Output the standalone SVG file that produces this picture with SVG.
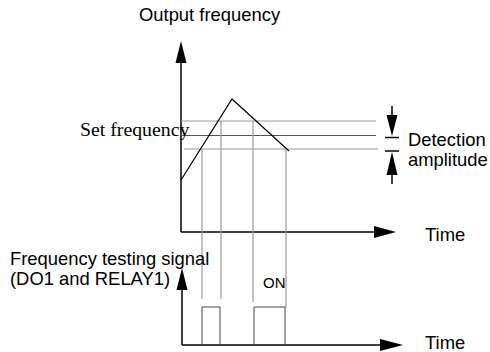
<svg xmlns="http://www.w3.org/2000/svg" width="490" height="352" viewBox="0 0 490 352">
<style>
.ax{stroke:#000;stroke-width:1.5;fill:none}
.ah{fill:#000;stroke:none}
.g{stroke:#9a9a9a;stroke-width:1.2;fill:none}
.m{stroke:#555;stroke-width:1;fill:none}
.p{stroke:#444;stroke-width:1;fill:none}
.t{font-family:"Liberation Sans",Arial,sans-serif;font-size:18.4px;fill:#000}
.s{font-family:"Liberation Serif","Times New Roman",serif;font-size:19.8px;fill:#000}
</style>
<rect width="490" height="352" fill="#fff"/>
<g id="connectors">
<line class="ax" x1="181" y1="232" x2="181" y2="60"/>
<polygon class="ah" points="181,41 175.5,63 186.5,63"/>
<line class="ax" x1="181" y1="232" x2="378" y2="232"/>
<polygon class="ah" points="396,232 374,226 374,238"/>
<line class="g" x1="181" y1="121" x2="376" y2="121"/>
<line class="m" x1="181" y1="135.5" x2="376" y2="135.5"/>
<line class="g" x1="184" y1="149" x2="378" y2="149"/>
<polyline fill="none" stroke="#000" stroke-width="1.2" points="181,180 232,99 289,151"/>
<line class="g" x1="202" y1="149" x2="202" y2="299"/>
<line class="g" x1="221" y1="121" x2="221" y2="299"/>
<line class="g" x1="253" y1="121" x2="253" y2="302"/>
<line class="g" x1="286" y1="149" x2="286" y2="308"/>
<line class="ax" x1="392" y1="106" x2="392" y2="120"/>
<polygon class="ah" points="392,136 386.5,115 397.5,115"/>
<line x1="385" y1="137.5" x2="399" y2="137.5" stroke="#000" stroke-width="1.5"/>
<line x1="385" y1="151" x2="399" y2="151" stroke="#000" stroke-width="1.5"/>
<polygon class="ah" points="392,152 386.5,175 397.5,175"/>
<line class="ax" x1="392" y1="170" x2="392" y2="184"/>
<line class="ax" x1="182" y1="345" x2="182" y2="285"/>
<polygon class="ah" points="182,268 176.5,290 187.5,290"/>
<line class="ax" x1="182" y1="345" x2="385" y2="345"/>
<polygon class="ah" points="403,345 380,339 380,351"/>
</g>
<g id="pulse1"><polyline class="p" points="202,345 202,307 220,307 220,345"/></g>
<g id="pulse2"><polyline class="p" points="254,345 254,307 285,307 285,345"/></g>
<g id="labels">
<text class="t" x="139" y="21">Output frequency</text>
<text class="s" x="80" y="136">Set frequency</text>
<text class="t" x="408" y="146">Detection</text>
<text class="t" x="408" y="166">amplitude</text>
<text class="t" x="425" y="241">Time</text>
<text class="t" x="10" y="265">Frequency testing signal</text>
<text class="t" x="10" y="285">(DO1 and RELAY1)</text>
<text class="t" x="263" y="288" style="font-size:15px">ON</text>
<text class="t" x="425" y="349">Time</text>
</g>
</svg>
